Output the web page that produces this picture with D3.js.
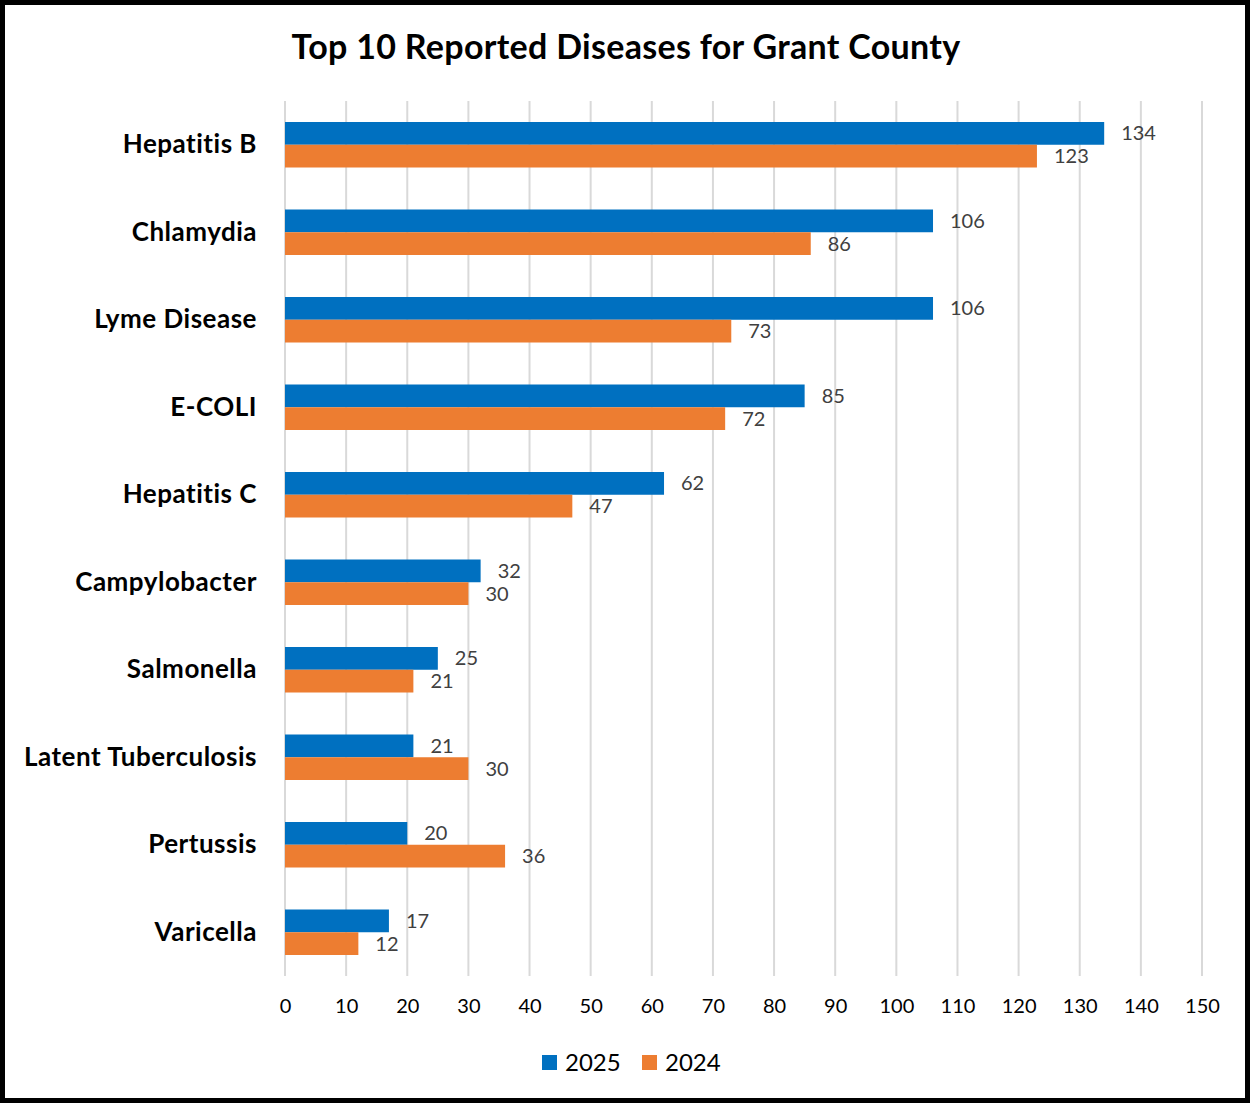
<!DOCTYPE html>
<html>
<head>
<meta charset="utf-8">
<script src="https://cdn.jsdelivr.net/npm/d3@7"></script>
<style>
  body { margin: 0; background: #fff; }
  svg { display: block; }
</style>
</head>
<body>
<svg width="1250" height="1103"></svg>
<script>
// data
var diseases = ["Hepatitis B", "Chlamydia", "Lyme Disease", "E-COLI", "Hepatitis C",
                "Campylobacter", "Salmonella", "Latent Tuberculosis", "Pertussis", "Varicella"];
var cases2025 = [134, 106, 106, 85, 62, 32, 25, 21, 20, 17];
var cases2024 = [123, 86, 73, 72, 47, 30, 21, 30, 36, 12];
var years = ["2025", "2024"];
var xTicks = [0, 10, 20, 30, 40, 50, 60, 70, 80, 90, 100, 110, 120, 130, 140, 150];

var font = "Lato, 'Open Sans', sans-serif";
var colors = { "2025": "#0070C0", "2024": "#ED7D31" };

var svg = d3.select("svg");

// outer frame
svg.append("rect")
  .attr("x", 2.5).attr("y", 2.5)
  .attr("width", 1245).attr("height", 1098)
  .attr("fill", "#fff")
  .attr("stroke", "#000")
  .attr("stroke-width", 5);

// title
svg.append("text")
  .attr("x", 626).attr("y", 59)
  .attr("text-anchor", "middle")
  .style("font-family", font)
  .style("font-weight", "bold")
  .style("font-size", "34px")
  .style("letter-spacing", "0.3px")
  .text("Top 10 Reported Diseases for Grant County");

var xScale = d3.scaleLinear().domain([0, 150]).range([285, 1202]);
var yScale = d3.scaleBand().domain(diseases).range([101, 976]).paddingInner(0.48).paddingOuter(0.24);
var ySub = d3.scaleBand().domain(years).range([0, yScale.bandwidth()]);

// gridlines
svg.append("g")
  .selectAll("line")
  .data(xTicks)
  .enter()
  .append("line")
  .attr("x1", function(d) { return xScale(d); })
  .attr("x2", function(d) { return xScale(d); })
  .attr("y1", 101).attr("y2", 976)
  .attr("stroke", "#d9d9d9")
  .attr("stroke-width", 2);

// x axis labels
var xAxis = svg.append("g")
  .attr("transform", "translate(0,999)")
  .call(d3.axisBottom(xScale).tickValues(xTicks).tickSize(0).tickPadding(0));
xAxis.select(".domain").remove();
xAxis.selectAll("text")
  .style("font-family", font)
  .style("font-size", "20px")
  .attr("fill", "#000");

// y axis labels
var yAxis = svg.append("g")
  .attr("transform", "translate(257,0)")
  .call(d3.axisLeft(yScale).tickSize(0).tickPadding(0));
yAxis.select(".domain").remove();
yAxis.selectAll("text")
  .style("font-family", font)
  .style("font-weight", "bold")
  .style("font-size", "26px")
  .style("letter-spacing", "0.5px")
  .attr("fill", "#000");

var rows = diseases.map(function(d, i) {
  return { name: d, vals: [
    { year: "2025", value: cases2025[i] },
    { year: "2024", value: cases2024[i] }
  ]};
});

var groups = svg.append("g")
  .selectAll("g")
  .data(rows)
  .enter()
  .append("g")
  .attr("transform", function(d) { return "translate(0," + yScale(d.name) + ")"; });

groups.selectAll("rect")
  .data(function(d) { return d.vals; })
  .enter()
  .append("rect")
  .attr("x", xScale(0))
  .attr("y", function(d) { return ySub(d.year); })
  .attr("width", function(d) { return xScale(d.value) - xScale(0); })
  .attr("height", ySub.bandwidth())
  .attr("fill", function(d) { return colors[d.year]; });

groups.selectAll("text")
  .data(function(d) { return d.vals; })
  .enter()
  .append("text")
  .attr("x", function(d) { return xScale(d.value) + 17; })
  .attr("y", function(d) { return ySub(d.year) + ySub.bandwidth() / 2; })
  .attr("dy", "0.35em")
  .style("font-family", font)
  .style("font-size", "20px")
  .attr("fill", "#404040")
  .text(function(d) { return d.value; });

// legend
var legendX = [542, 642];
var legend = svg.append("g")
  .selectAll("g")
  .data(years)
  .enter()
  .append("g")
  .attr("transform", function(d, i) { return "translate(" + legendX[i] + ",1055)"; });

legend.append("rect")
  .attr("width", 15).attr("height", 15)
  .attr("fill", function(d) { return colors[d]; });

legend.append("text")
  .attr("x", 23).attr("y", 7.5)
  .attr("dy", "0.35em")
  .style("font-family", font)
  .style("font-size", "24px")
  .attr("fill", "#000")
  .text(function(d) { return d; });
</script>
</body>
</html>
